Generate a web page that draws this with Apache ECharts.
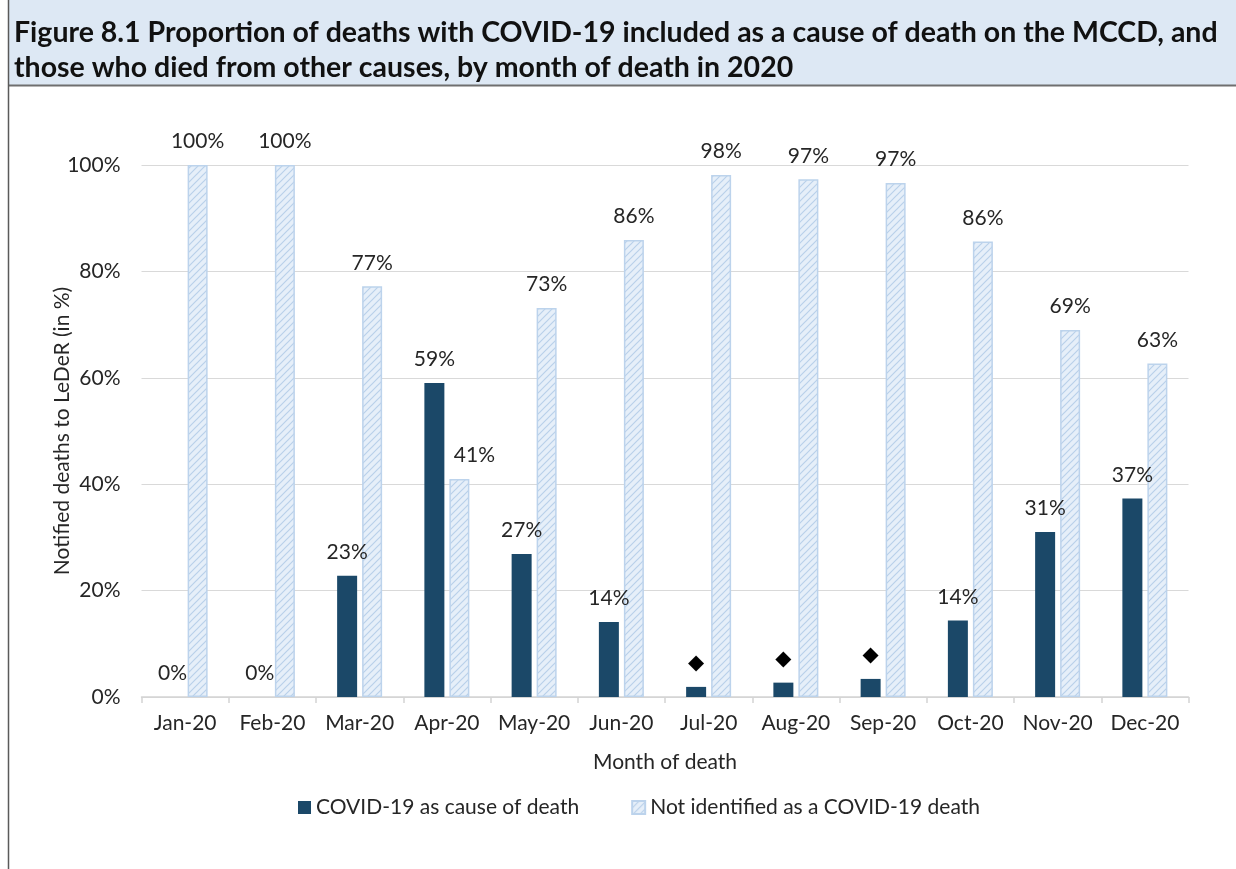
<!DOCTYPE html>
<html>
<head>
<meta charset="utf-8">
<script src="https://cdn.jsdelivr.net/npm/echarts@6/dist/echarts.min.js"></script>
<style>
  html, body { margin: 0; padding: 0; background: #fff; }
  #chart { width: 1236px; height: 869px; }
</style>
</head>
<body>
<div id="chart"></div>
<script>
// month of death
const months = ['Jan-20', 'Feb-20', 'Mar-20', 'Apr-20', 'May-20', 'Jun-20',
  'Jul-20', 'Aug-20', 'Sep-20', 'Oct-20', 'Nov-20', 'Dec-20'];
// % with COVID-19 on the MCCD
const covidPct = [0, 0, 22.8, 59, 26.9, 14.1, 1.9, 2.7, 3.4, 14.4, 31, 37.3];
// % not identified as a COVID-19 death
const otherPct = [100, 100, 77.2, 41, 73.1, 85.9, 98.1, 97.3, 96.6, 85.6, 69, 62.7];
// months where the covid figure is suppressed (shown as a diamond)
const suppressed = ['Jul-20', 'Aug-20', 'Sep-20'];
// label nudged right so it clears the taller bar next to it
const nudgedLabel = 'Apr-20';
const yTicks = [0, 20, 40, 60, 80, 100];

const FONT = 'Lato, "Open Sans", sans-serif';
const TXT = '#262626';
const FS = 21;

// diagonal hatch fill for the second series
function hatch() {
  const c = document.createElement('canvas');
  c.width = 7; c.height = 7;
  const ctx = c.getContext('2d');
  ctx.fillStyle = '#e6eff9';
  ctx.fillRect(0, 0, 7, 7);
  ctx.strokeStyle = '#b9d0ea';
  ctx.lineWidth = 1.2;
  ctx.beginPath();
  ctx.moveTo(-1, 8); ctx.lineTo(8, -1);
  ctx.moveTo(-1, 1); ctx.lineTo(1, -1);
  ctx.moveTo(6, 8); ctx.lineTo(8, 6);
  ctx.stroke();
  return { image: c, repeat: 'repeat' };
}
const hatchFill = hatch();

const chart = echarts.init(document.getElementById('chart'));

const otherData = otherPct.map((v, i) =>
  months[i] === nudgedLabel ? { value: v, label: { offset: [15, 0] } } : v);

const option = {
  animation: false,
  textStyle: { fontFamily: FONT },
  title: {
    text: 'Figure 8.1 Proportion of deaths with COVID-19 included as a cause of death on the MCCD, and\nthose who died from other causes, by month of death in 2020',
    left: 9,
    top: 10,
    textStyle: { fontFamily: FONT, fontWeight: 'bold', fontSize: 28.5, lineHeight: 35, color: '#111' }
  },
  graphic: [
    { type: 'rect', z: -1, shape: { x: 8, y: 0, width: 1228, height: 86 }, style: { fill: '#dde8f4' } },
    { type: 'line', shape: { x1: 8, y1: 85.5, x2: 1236, y2: 85.5 }, style: { stroke: '#6f6f6f', lineWidth: 2 } },
    { type: 'line', shape: { x1: 8.5, y1: 0, x2: 8.5, y2: 869 }, style: { stroke: '#5a5a5a', lineWidth: 1.5 } }
  ],
  legend: {
    top: 792,
    left: 293,
    itemWidth: 13,
    itemHeight: 13,
    itemGap: 52,
    textStyle: { fontFamily: FONT, fontSize: FS, color: TXT },
    data: [
      { name: 'COVID-19 as cause of death', icon: 'rect' },
      { name: 'Not identified as a COVID-19 death', icon: 'rect' }
    ]
  },
  grid: { left: 141.5, right: 47.5, top: 165, bottom: 172 },
  xAxis: {
    type: 'category',
    data: months,
    name: 'Month of death',
    nameLocation: 'middle',
    nameGap: 55,
    nameTextStyle: { fontFamily: FONT, fontSize: FS, color: TXT },
    axisLine: { lineStyle: { color: '#d4d4d4', width: 1.5 } },
    axisTick: { show: true, length: 6, lineStyle: { color: '#d4d4d4', width: 1.5 } },
    axisLabel: { fontFamily: FONT, fontSize: FS, color: TXT, margin: 16, interval: 0 }
  },
  yAxis: {
    type: 'value',
    min: yTicks[0],
    max: yTicks[yTicks.length - 1],
    interval: yTicks[1] - yTicks[0],
    name: 'Notified deaths to LeDeR (in %)',
    nameLocation: 'middle',
    nameGap: 69,
    nameMoveOverlap: false,
    nameTextStyle: { fontFamily: FONT, fontSize: FS, color: TXT },
    axisLine: { show: false },
    axisTick: { show: false },
    axisLabel: { fontFamily: FONT, fontSize: FS, color: TXT, margin: 21, formatter: '{value}%' },
    splitLine: { lineStyle: { color: '#d9d9d9', width: 1.2 } }
  },
  series: [
    {
      name: 'COVID-19 as cause of death',
      type: 'bar',
      data: covidPct,
      barWidth: 20,
      barGap: '25%',
      itemStyle: { color: '#1b4868' },
      label: {
        show: true,
        position: 'top',
        distance: 13,
        fontFamily: FONT,
        fontSize: FS,
        color: TXT,
        formatter: p => suppressed.includes(p.name) ? '{d|◆}' : Math.round(p.value) + '%',
        rich: { d: { fontFamily: '"DejaVu Sans"', fontSize: 21, color: '#000' } }
      }
    },
    {
      name: 'Not identified as a COVID-19 death',
      type: 'bar',
      data: otherData,
      barWidth: 20,
      itemStyle: { color: hatchFill, borderColor: '#bcd3ec', borderWidth: 1.5 },
      label: {
        show: true,
        position: 'top',
        distance: 13,
        fontFamily: FONT,
        fontSize: FS,
        color: TXT,
        formatter: p => Math.round(p.value) + '%'
      }
    }
  ]
};

chart.setOption(option);
</script>
</body>
</html>
